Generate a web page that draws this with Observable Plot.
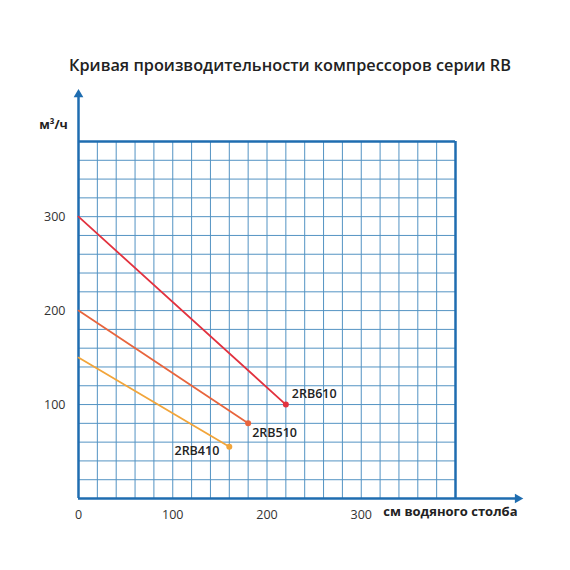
<!DOCTYPE html>
<html>
<head>
<meta charset="utf-8">
<script src="https://cdn.jsdelivr.net/npm/d3@7"></script>
<script src="https://cdn.jsdelivr.net/npm/@observablehq/plot@0.6"></script>
<style>
  body { margin: 0; background: #fff; }
  #chart svg { font-family: "Open Sans", sans-serif; }
</style>
</head>
<body>
<div id="chart"></div>
<script>
// Data
const models = ["2RB610", "2RB510", "2RB410"];
const colors = ["#e2323f", "#e8653d", "#f2a53a"];
const startPressure = [0, 0, 0];        // см водяного столба
const startFlow = [300, 200, 150];      // м³/ч
const endPressure = [220, 180, 160];
const endFlow = [100, 80, 55];
const xTicks = [0, 100, 200, 300];
const yTicks = [100, 200, 300];
const xDomain = [0, 400];
const yDomain = [0, 380];
const gridStep = 20;
const title = "Кривая производительности компрессоров серии RB";
const xLabel = "см водяного столба";
const yLabel = "м³/ч";
const axisArrowX = 466;  // extent of x axis arrow (in data units)
const axisArrowY = 430;  // extent of y axis arrow

const lines = [];
models.forEach((m, i) => {
  lines.push({model: m, x: startPressure[i], y: startFlow[i]});
  lines.push({model: m, x: endPressure[i], y: endFlow[i]});
});
const ends = models.map((m, i) => ({model: m, x: endPressure[i], y: endFlow[i]}));

const gridX = d3.range(xDomain[0], xDomain[1] + 1, gridStep);
const gridY = d3.range(yDomain[0], yDomain[1] + 1, gridStep);

const frameColor = "#1f6db0";
const gridColor = "#5393c3";

const labelOpts = [
  {dx: 6, dy: -11, textAnchor: "start"},
  {dx: 4, dy: 10, textAnchor: "start"},
  {dx: -10, dy: 4, textAnchor: "end"}
];

const plot = Plot.plot({
  width: 570,
  height: 570,
  marginLeft: 78,
  marginRight: 115,
  marginTop: 141,
  marginBottom: 72,
  x: {domain: xDomain},
  y: {domain: yDomain},
  color: {domain: models, range: colors},
  marks: [
    Plot.ruleX(gridX, {y1: yDomain[0], y2: yDomain[1], stroke: gridColor, strokeWidth: 1}),
    Plot.ruleY(gridY, {x1: xDomain[0], x2: xDomain[1], stroke: gridColor, strokeWidth: 1}),
    // frame top and right
    Plot.ruleY([yDomain[1]], {x1: xDomain[0], x2: xDomain[1], stroke: frameColor, strokeWidth: 2.5}),
    Plot.ruleX([xDomain[1]], {y1: yDomain[0], y2: yDomain[1], stroke: frameColor, strokeWidth: 2.5}),
    // axes with arrows
    Plot.ruleY([0], {x1: 0, x2: axisArrowX, stroke: frameColor, strokeWidth: 2.5}),
    Plot.ruleX([0], {y1: 0, y2: axisArrowY, stroke: frameColor, strokeWidth: 2.5}),
    Plot.dot([{x: axisArrowX, y: 0}], {x: "x", y: "y", symbol: "triangle", rotate: 90, r: 3.6, fill: frameColor, stroke: null}),
    Plot.dot([{x: 0, y: axisArrowY}], {x: "x", y: "y", symbol: "triangle", r: 3.6, fill: frameColor, stroke: null}),
    // data
    Plot.line(lines, {x: "x", y: "y", z: "model", stroke: "model", strokeWidth: 1.8}),
    Plot.dot(ends, {x: "x", y: "y", fill: "model", r: 3}),
    ...ends.map((d, i) => Plot.text([d], {x: "x", y: "y", text: "model", fill: "#222", fontSize: 12.5, fontWeight: 600, ...labelOpts[i]})),
    // axes tick labels
    Plot.axisX({ticks: xTicks, tickSize: 0, tickPadding: 12, fontSize: 12.5, label: null, color: "#333"}),
    Plot.axisY({ticks: yTicks, tickSize: 0, tickPadding: 13, fontSize: 12.5, label: null, color: "#333"}),
    Plot.text([xLabel], {frameAnchor: "bottom-right", dx: 62, dy: 17, text: d => d, fontSize: 13, fontWeight: 700, fill: "#222", textAnchor: "end"}),
    Plot.text([yLabel], {frameAnchor: "top-left", dx: -25, dy: -21, text: d => d, fontSize: 12.5, fontWeight: 700, fill: "#222", textAnchor: "middle"}),
    Plot.text([title], {frameAnchor: "top", dx: 23, dy: -82, text: d => d, fontSize: 16.3, fontWeight: 600, fill: "#222"})
  ]
});
document.getElementById("chart").appendChild(plot);
</script>
</body>
</html>
